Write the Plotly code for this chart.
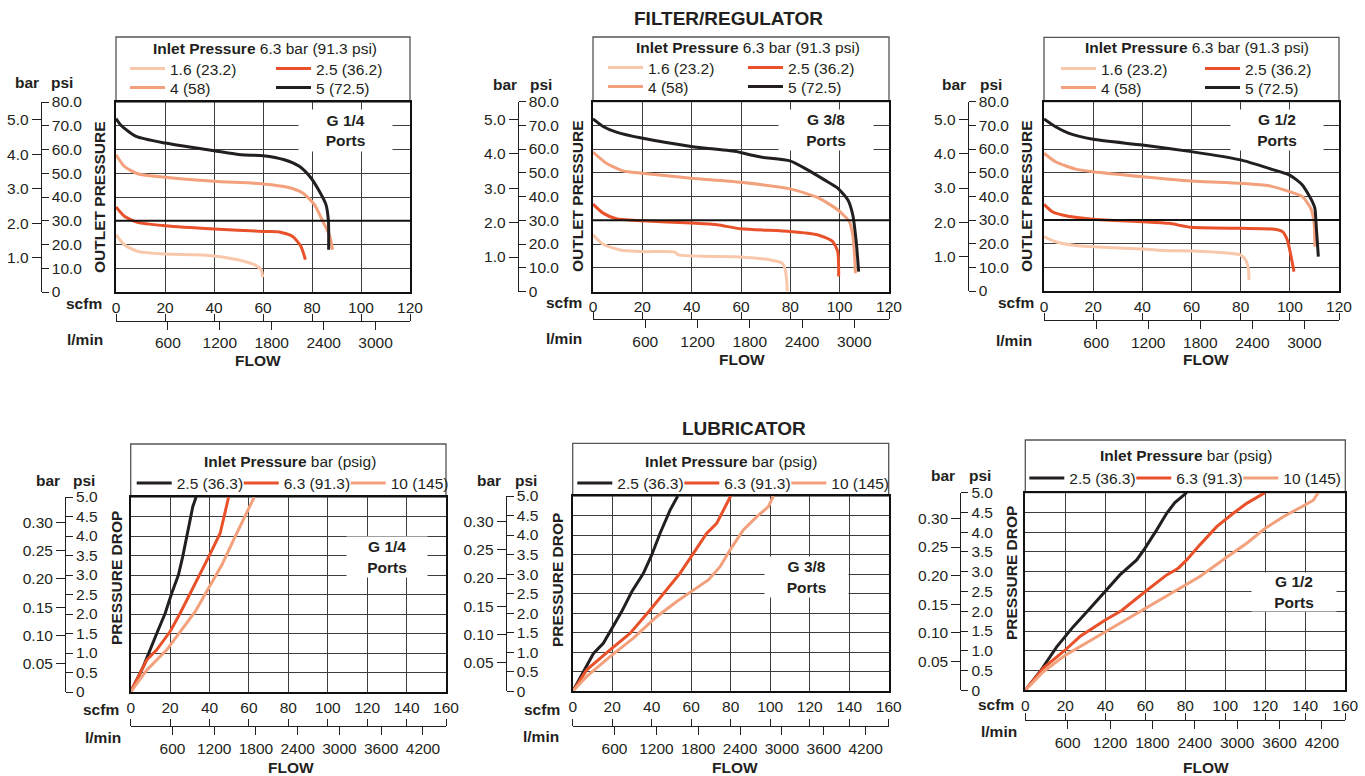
import plotly.graph_objects as go

W, H = 1365, 776
LPM_PER_SCFM = 28.3168
PSI_PER_BAR = 14.5038

# --- Filter/regulator: outlet pressure (psi) vs flow (scfm), one set per port size ---
fr14_16_scfm = [0, 3.4, 8.8, 20, 32, 40.1, 49.7, 56.5, 59.2, 59.9]
fr14_16_psi = [24.1, 19.9, 17.1, 16.0, 15.7, 15.2, 13.6, 11.5, 9.4, 6.2]
fr14_25_scfm = [0, 3.4, 8.8, 20, 40.1, 60.1, 66.7, 72.1, 75.5, 77.3]
fr14_25_psi = [35.8, 31.9, 29.3, 27.9, 26.5, 25.5, 25.3, 23.4, 19.2, 13.6]
fr14_4_scfm = [0, 3.4, 8.8, 20, 40.1, 60.1, 70, 76.2, 81, 84.4, 87.1, 88.4]
fr14_4_psi = [57.8, 52.9, 49.8, 48.3, 46.6, 45.5, 44.1, 41.7, 36.8, 29.8, 24.1, 17.8]
fr14_5_scfm = [0, 2.0, 8.2, 20, 40.1, 51, 60.1, 68.7, 74.8, 79.6, 83, 85.7, 86.7, 86.8]
fr14_5_psi = [73.0, 70.2, 65.5, 62.7, 59.5, 57.8, 57.4, 55.7, 52.9, 48, 42.4, 36.8, 29.8, 17.8]

fr38_16_scfm = [0, 4.1, 10.9, 19.7, 33.3, 34.6, 59.9, 72, 76.8, 78.1, 78.8]
fr38_16_psi = [23.9, 19.9, 17.5, 16.8, 16.6, 15.4, 14.5, 13.3, 11.9, 8.4, 0]
fr38_25_scfm = [0, 4.1, 9.5, 19.7, 39.8, 50.3, 59.9, 79.9, 91, 97.1, 99.2, 99.6]
fr38_25_psi = [36.8, 33.0, 30.6, 29.8, 28.8, 28.1, 26.4, 25.3, 23.9, 21.1, 16.8, 6.3]
fr38_4_scfm = [0, 5.4, 12.2, 19.7, 39.8, 59.9, 79.9, 91, 99.2, 103.9, 105.3, 106, 106.4]
fr38_4_psi = [58.7, 54.0, 50.8, 49.8, 47.7, 46.0, 43.2, 39.6, 34.4, 29.5, 23.9, 15.4, 7.7]
fr38_5_scfm = [0, 4.1, 9.5, 19.7, 39.8, 58.4, 61.1, 68, 79.9, 87, 93.8, 99.2, 103.3, 105.3, 106.7, 107.7]
fr38_5_psi = [72.7, 69.5, 67.1, 64.6, 61.1, 58.9, 58.2, 56.6, 55.0, 51.2, 47.0, 43.5, 38.6, 32.3, 21.1, 8.4]

fr12_16_scfm = [0, 4.7, 12.9, 20, 40, 50.8, 59.9, 80, 82, 83.1, 83.4]
fr12_16_psi = [23.0, 20.8, 19.2, 18.7, 17.7, 17.0, 16.9, 15.2, 13.1, 9.6, 4.6]
fr12_25_scfm = [0, 3.4, 7.5, 20, 40, 50.8, 59.9, 80, 92.9, 97, 99, 100.1, 101.7]
fr12_25_psi = [36.6, 33.5, 32.1, 30.3, 29.3, 28.6, 26.9, 26.5, 26.2, 25.1, 21.5, 16.6, 8.2]
fr12_4_scfm = [0, 4.7, 12.9, 20, 40, 59.9, 80, 91.5, 99.9, 105.1, 108.5, 109.8, 110.2]
fr12_4_psi = [58.2, 54.6, 51.5, 50.4, 48.3, 46.5, 45.5, 44.5, 42.0, 39.9, 34.9, 29.3, 18.7]
fr12_5_scfm = [0, 4.7, 10.2, 20, 40, 59.9, 80, 91.5, 99.9, 105.1, 109.2, 110.2, 110.8, 111.6]
fr12_5_psi = [72.7, 69.4, 66.6, 64.1, 61.7, 58.9, 55.4, 51.8, 49.0, 44.8, 37.7, 34.9, 26.5, 14.5]

# --- Lubricator: pressure drop (psi) vs flow (scfm) ---
lub14_25_scfm = [0, 6.4, 13.2, 17.5, 20.8, 24.2, 26.4, 29.3, 31.5, 33.2]
lub14_25_psi = [0, 0.65, 1.5, 2.02, 2.53, 3.0, 3.47, 4.24, 4.75, 5.0]
lub14_63_scfm = [0, 8.1, 13.2, 20, 25.1, 30.2, 35.3, 40, 45.4, 47.9, 49.7]
lub14_63_psi = [0, 0.82, 1.08, 1.55, 2.02, 2.53, 3.0, 3.51, 4.07, 4.58, 5.0]
lub14_10_scfm = [0, 8.1, 18.3, 25.9, 32.7, 39.5, 46.3, 52.2, 59, 62.7]
lub14_10_psi = [0, 0.56, 1.08, 1.59, 2.06, 2.66, 3.26, 3.9, 4.62, 5.0]

lub38_25_scfm = [0, 5.4, 10.5, 15.5, 20.6, 24.8, 29.9, 35.8, 40, 44.2, 49.3, 53.2]
lub38_25_psi = [0, 0.5, 0.97, 1.23, 1.66, 2.04, 2.55, 3.02, 3.49, 4.04, 4.64, 5.0]
lub38_63_scfm = [0, 7.1, 18.9, 29, 39.2, 47.6, 54.3, 61.1, 67.8, 72.9, 76.3, 80]
lub38_63_psi = [0, 0.55, 1.06, 1.48, 2.08, 2.59, 3.02, 3.53, 4.04, 4.3, 4.64, 5.0]
lub38_10_scfm = [0, 7.1, 18.9, 30.7, 42.5, 52.7, 61.1, 68.7, 74.6, 79.7, 86.4, 93.2, 99.1, 101.6]
lub38_10_psi = [0, 0.38, 0.89, 1.36, 1.91, 2.3, 2.59, 2.85, 3.19, 3.62, 4.13, 4.47, 4.73, 5.0]

lub12_25_scfm = [0, 7.3, 15.7, 24, 32.3, 40, 47.3, 55.7, 59.8, 65.7, 70.7, 74.8, 80.7]
lub12_25_psi = [0, 0.47, 1.1, 1.61, 2.07, 2.5, 2.92, 3.3, 3.59, 4.06, 4.48, 4.75, 5.0]
lub12_63_scfm = [0, 9, 20, 27.3, 40, 48.2, 60, 70.7, 76.5, 80.7, 87.3, 95.7, 104, 110.7, 119.8]
lub12_63_psi = [0, 0.56, 1.02, 1.36, 1.78, 2.02, 2.5, 2.92, 3.09, 3.3, 3.68, 4.14, 4.48, 4.73, 5.0]
lub12_10_scfm = [0, 9, 20, 40, 60, 80, 87.3, 100, 110.7, 120, 129, 139.8, 144, 146.5]
lub12_10_psi = [0, 0.47, 0.89, 1.48, 2.07, 2.66, 2.88, 3.34, 3.72, 4.1, 4.39, 4.69, 4.81, 5.0]

# --- series names, colours and tick labels ---
fr_names = ["1.6 (23.2)", "2.5 (36.2)", "4 (58)", "5 (72.5)"]
fr_colors = ["#F9C8AB", "#E8512A", "#F3A07C", "#231F20"]
lub_names = ["2.5 (36.3)", "6.3 (91.3)", "10 (145)"]
lub_colors = ["#231F20", "#E8512A", "#F3A07C"]

fr_scfm_ticks = [0, 20, 40, 60, 80, 100, 120]
lub_scfm_ticks = [0, 20, 40, 60, 80, 100, 120, 140, 160]
fr_lpm_ticks = [600, 1200, 1800, 2400, 3000]
lub_lpm_ticks = [600, 1200, 1800, 2400, 3000, 3600, 4200]
fr_psi_ticks = [0, 10, 20, 30, 40, 50, 60, 70, 80]
fr_psi_text = ["0", "10.0", "20.0", "30.0", "40.0", "50.0", "60.0", "70.0", "80.0"]
fr_bar_ticks = [1, 2, 3, 4, 5]
fr_bar_text = ["1.0", "2.0", "3.0", "4.0", "5.0"]
lub_psi_ticks = [0, 0.5, 1, 1.5, 2, 2.5, 3, 3.5, 4, 4.5, 5]
lub_psi_text = ["0", "0.5", "1.0", "1.5", "2.0", "2.5", "3.0", "3.5", "4.0", "4.5", "5.0"]
lub_bar_ticks = [0.05, 0.10, 0.15, 0.20, 0.25, 0.30]
lub_bar_text = ["0.05", "0.10", "0.15", "0.20", "0.25", "0.30"]

FONT = "Liberation Sans, Arial, Helvetica, sans-serif"
INK = "#231F20"
GRID = "#3C3C3C"
TICK_SIZE = 15.5
SWATCH = 35


def xp(px):
    return px / W


def yp(py):
    return 1 - py / H


def aname(letter, n):
    return f"{letter}axis" + ("" if n == 1 else str(n))


def aref(letter, n):
    return letter + ("" if n == 1 else str(n))


panels = [
    dict(kind="fr", port="G 1/4", series=[(fr14_16_scfm, fr14_16_psi), (fr14_25_scfm, fr14_25_psi), (fr14_4_scfm, fr14_4_psi), (fr14_5_scfm, fr14_5_psi)],
         L=116, R=410, T=102, B=292, leg_top=37, a=40.7, lpm_y=320.7, bar=(27, 83), psi=(62, 83), scfm=(84, 304), lmin=(85, 339),
         flow=(258, 360), ytitle=(99, 197), title=(265, 48), rows=(69, 88), sw=(130, 276), port_at=(93.5, 67.8), port_box=(91, 39)),
    dict(kind="fr", port="G 3/8", series=[(fr38_16_scfm, fr38_16_psi), (fr38_25_scfm, fr38_25_psi), (fr38_4_scfm, fr38_4_psi), (fr38_5_scfm, fr38_5_psi)],
         L=593, R=889, T=101.5, B=291.5, leg_top=37, a=517.7, lpm_y=319.3, bar=(505, 84), psi=(541, 84), scfm=(564, 303), lmin=(564, 338),
         flow=(742.5, 359), ytitle=(577, 196), title=(747.5, 47), rows=(68, 87), sw=(608, 748), port_at=(94.5, 68.2), port_box=(92, 38)),
    dict(kind="fr", port="G 1/2", series=[(fr12_16_scfm, fr12_16_psi), (fr12_25_scfm, fr12_25_psi), (fr12_4_scfm, fr12_4_psi), (fr12_5_scfm, fr12_5_psi)],
         L=1044, R=1339, T=101.7, B=291, leg_top=37.3, a=967.7, lpm_y=320, bar=(954, 84), psi=(991, 84), scfm=(1016, 303), lmin=(1014, 340),
         flow=(1206, 359), ytitle=(1026, 196), title=(1197, 47.5), rows=(69, 88), sw=(1061, 1205), port_at=(94.8, 68.0), port_box=(90, 38)),
    dict(kind="lub", port="G 1/4", series=[(lub14_25_scfm, lub14_25_psi), (lub14_63_scfm, lub14_63_psi), (lub14_10_scfm, lub14_10_psi)],
         L=130.7, R=446, T=497, B=692, leg_top=444, a=65, lpm_y=726, bar=(48, 480), psi=(84, 480), scfm=(100.5, 709), lmin=(103, 737),
         flow=(291, 767), ytitle=(116, 578), title=(290, 461), rows=(483.5,), sw=(136.7,), port_at=(129.9, 3.46), port_box=(78, 38)),
    dict(kind="lub", port="G 3/8", series=[(lub38_25_scfm, lub38_25_psi), (lub38_63_scfm, lub38_63_psi), (lub38_10_scfm, lub38_10_psi)],
         L=572.7, R=888.7, T=496, B=691.3, leg_top=443.3, a=505.7, lpm_y=726, bar=(489, 480), psi=(526, 480), scfm=(541.7, 709), lmin=(540.5, 736),
         flow=(735, 767), ytitle=(557, 580), title=(731, 461), rows=(483.5,), sw=(577.3,), port_at=(118.5, 2.93), port_box=(81, 38)),
    dict(kind="lub", port="G 1/2", series=[(lub12_25_scfm, lub12_25_psi), (lub12_63_scfm, lub12_63_psi), (lub12_10_scfm, lub12_10_psi)],
         L=1025.3, R=1345.3, T=492.7, B=690.3, leg_top=440, a=960.3, lpm_y=720, bar=(943, 475), psi=(979.5, 475), scfm=(996, 704), lmin=(999.5, 731),
         flow=(1205.5, 767), ytitle=(1011, 573), title=(1185.5, 455), rows=(478.5,), sw=(1029.3,), port_at=(134.1, 2.49), port_box=(82, 36)),
]

fig = go.Figure()
layout = dict(width=W, height=H, margin=dict(l=0, r=0, t=0, b=0, autoexpand=False), paper_bgcolor="white",
              plot_bgcolor="white", font=dict(family=FONT, color=INK, size=15), showlegend=True)
annotations = []
shapes = []
legend_count = 0


def text(x, y, s, size=15.5, angle=0):
    annotations.append(dict(xref="paper", yref="paper", x=xp(x), y=yp(y), text=s, showarrow=False,
                            xanchor="center", yanchor="middle", textangle=angle,
                            font=dict(family=FONT, size=size, color=INK)))


def new_legend(x_swatch, y_row, entrywidth):
    global legend_count
    legend_count += 1
    key = "legend" + ("" if legend_count == 1 else str(legend_count))
    layout[key] = dict(x=xp(x_swatch - 5), y=yp(y_row), xanchor="left", yanchor="middle", orientation="h",
                       entrywidth=entrywidth, entrywidthmode="pixels", itemwidth=SWATCH,
                       bgcolor="rgba(0,0,0,0)", borderwidth=0,
                       font=dict(family=FONT, size=15.5, color=INK), tracegroupgap=0, itemclick=False,
                       itemdoubleclick=False)
    return key


for k, p in enumerate(panels):
    xm, xl = 2 * k + 1, 2 * k + 2
    ym, yps, ybr = 3 * k + 1, 3 * k + 2, 3 * k + 3
    fr = p["kind"] == "fr"
    xmax = 120 if fr else 160
    ymax = 80 if fr else 5
    scfm_ticks = fr_scfm_ticks if fr else lub_scfm_ticks

    layout[aname("x", xm)] = dict(domain=[xp(p["L"]), xp(p["R"])], anchor=aref("y", ym), range=[0, xmax],
                                  tickmode="array", tickvals=scfm_ticks, ticks="", showline=True, mirror=True,
                                  linecolor="#111", linewidth=2, showgrid=True, gridcolor=GRID, gridwidth=1.3,
                                  zeroline=False, tickfont=dict(size=TICK_SIZE), fixedrange=True)
    layout[aname("y", ym)] = dict(domain=[yp(p["B"]), yp(p["T"])], anchor=aref("x", xm), range=[0, ymax],
                                  tickmode="array", tickvals=fr_psi_ticks if fr else lub_psi_ticks,
                                  showticklabels=False, ticks="", showline=True, mirror=True, linecolor="#111",
                                  linewidth=2, showgrid=True, gridcolor=GRID, gridwidth=1.3, zeroline=False,
                                  fixedrange=True)
    # l/min scale under the scfm scale
    layout[aname("x", xl)] = dict(overlaying=aref("x", xm), anchor="free", position=yp(p["lpm_y"]), side="bottom",
                                  range=[0, xmax * LPM_PER_SCFM], tickmode="array",
                                  tickvals=fr_lpm_ticks if fr else lub_lpm_ticks, ticks="outside", ticklen=8,
                                  tickwidth=1, tickcolor=INK, showline=True, linecolor=INK, linewidth=1,
                                  showgrid=False, zeroline=False, tickfont=dict(size=TICK_SIZE), fixedrange=True,
                                  minor=dict(tickmode="linear", tick0=0, dtick=20 * LPM_PER_SCFM, ticks="inside",
                                             ticklen=7, tickwidth=1, tickcolor=INK, showgrid=False))
    # psi scale and bar scale sharing one vertical line
    layout[aname("y", yps)] = dict(overlaying=aref("y", ym), anchor="free", position=xp(p["a"]), side="right",
                                   range=[0, ymax], tickmode="array", tickvals=fr_psi_ticks if fr else lub_psi_ticks,
                                   ticktext=fr_psi_text if fr else lub_psi_text, ticks="outside", ticklen=7,
                                   tickwidth=1, tickcolor=INK, showline=True, linecolor=INK, linewidth=1,
                                   showgrid=False, zeroline=False, tickfont=dict(size=TICK_SIZE), fixedrange=True)
    layout[aname("y", ybr)] = dict(overlaying=aref("y", ym), anchor="free", position=xp(p["a"]), side="left",
                                   range=[0, ymax / PSI_PER_BAR], tickmode="array",
                                   tickvals=fr_bar_ticks if fr else lub_bar_ticks,
                                   ticktext=fr_bar_text if fr else lub_bar_text, ticks="outside", ticklen=9,
                                   tickwidth=1, tickcolor=INK, showline=False, showgrid=False, zeroline=False,
                                   tickfont=dict(size=TICK_SIZE), fixedrange=True)

    # legend rows
    if fr:
        ew = p["sw"][1] - p["sw"][0] - SWATCH - 15
        leg1 = new_legend(p["sw"][0], p["rows"][0], ew)
        leg2 = new_legend(p["sw"][0], p["rows"][1], ew)
        leg_of = [leg1, leg1, leg2, leg2]
        names, colors = fr_names, fr_colors
        title_txt = "<b>Inlet Pressure</b> 6.3 bar (91.3 psi)"
        ytitle = "<b>OUTLET PRESSURE</b>"
    else:
        leg = new_legend(p["sw"][0], p["rows"][0], 57)
        leg_of = [leg, leg, leg]
        names, colors = lub_names, lub_colors
        title_txt = "<b>Inlet Pressure</b> bar (psig)"
        ytitle = "<b>PRESSURE DROP</b>"

    for (sx, sy), nm, col, lg in zip(p["series"], names, colors, leg_of):
        fig.add_trace(go.Scatter(x=sx, y=sy, mode="lines", name=nm, legend=lg,
                                 line=dict(color=col, width=3, shape="spline" if fr else "linear", smoothing=0.6),
                                 xaxis=aref("x", xm), yaxis=aref("y", ym), hoverinfo="skip"))

    # empty traces so that the secondary scales (l/min, psi, bar) get drawn
    for xa, ya in [(aref("x", xl), aref("y", ym)), (aref("x", xm), aref("y", yps)), (aref("x", xm), aref("y", ybr))]:
        fig.add_trace(go.Scatter(x=[], y=[], mode="lines", xaxis=xa, yaxis=ya, showlegend=False, hoverinfo="skip"))

    # legend frame above the plot
    shapes.append(dict(type="rect", xref="paper", yref="paper", x0=xp(p["L"]), x1=xp(p["R"]),
                       y0=yp(p["T"]), y1=yp(p["leg_top"]), line=dict(color="#555", width=1.3), layer="below"))
    if fr:
        shapes.append(dict(type="line", xref=aref("x", xm) + " domain", yref=aref("y", ym), x0=0, x1=1,
                           y0=30, y1=30, line=dict(color="#111", width=2)))

    annotations.append(dict(xref=aref("x", xm), yref=aref("y", ym), x=p["port_at"][0], y=p["port_at"][1],
                            text="<b>" + p["port"] + "<br>Ports</b>", showarrow=False, bgcolor="white",
                            width=p["port_box"][0], height=p["port_box"][1], align="center", valign="middle",
                            font=dict(family=FONT, size=15.5, color=INK)))

    text(p["title"][0], p["title"][1], title_txt, 15.5)
    text(p["bar"][0], p["bar"][1], "<b>bar</b>")
    text(p["psi"][0], p["psi"][1], "<b>psi</b>")
    text(p["scfm"][0], p["scfm"][1], "<b>scfm</b>")
    text(p["lmin"][0], p["lmin"][1], "<b>l/min</b>")
    text(p["flow"][0], p["flow"][1], "<b>FLOW</b>")
    text(p["ytitle"][0], p["ytitle"][1], ytitle, 15.5, -90)

text(728, 18.5, "<b>FILTER/REGULATOR</b>", 19)
text(744, 428, "<b>LUBRICATOR</b>", 19)

layout["annotations"] = annotations
layout["shapes"] = shapes
fig.update_layout(**layout)
# the page body has a default 8px margin; drop it so the figure sits at the window origin
fig.write_html("out.html", config={"displayModeBar": False},
               post_script="document.body.style.margin='0px';")
